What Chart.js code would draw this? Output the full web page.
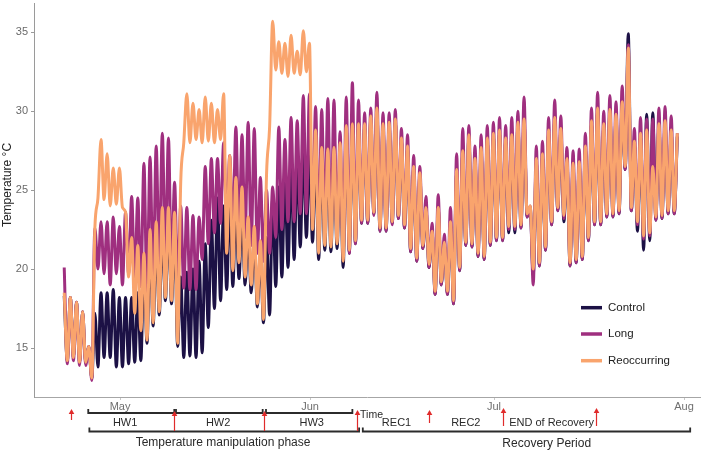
<!DOCTYPE html>
<html><head><meta charset="utf-8">
<script src="https://cdn.jsdelivr.net/npm/chart.js@4.4.1/dist/chart.umd.min.js"></script>
<style>html,body{margin:0;padding:0;background:#fff;}canvas{display:block;}</style>
</head><body>
<canvas id="c" width="709" height="452" style="width:709px;height:452px"></canvas>
<script>
// ---------- DATA (day offsets counted from 20 April) ----------
const seriesNames = ["Control", "Long", "Reoccurring"];
const seriesColors = ["#1c1145", "#9f2f7f", "#f9a46d"];
const monthDays = [11, 42, 72, 103];
const monthLabels = ["May", "Jun", "Jul", "Aug"];
const yTicks = [15, 20, 25, 30, 35];
const yTitle = "Temperature \u00B0C";
const FIRST_MAX_DAY = 1.9;   // time of the first daily maximum sample

// daily maxima / minima (one value per day)
const controlMax = [18.3,18.2,17.9,17.3,15.1,17.2,18.5,18.5,18.7,18.2,
  18.2,18.2,18.5,20.5,21.5,22.0,22.5,23.0,22.5,19.5,
  19.8,20.0,20.5,21.6,23.1,24.5,24.0,24.5,24.0,23.5,
  22.5,22.0,21.0,22.0,24.5,25.2,26.0,26.7,27.1,27.7,
  27.5,27.2,27.0,27.2,27.0,26.8,28.9,29.0,29.0,29.0,
  29.5,30.0,29.0,29.1,29.3,28.1,27.6,26.4,25.9,23.8,
  22.3,23.8,21.6,22.9,26.1,27.3,28.3,26.8,27.5,28.1,
  28.4,28.6,28.1,28.3,29.1,29.3,23.9,26.8,27.1,28.6,
  29.4,28.7,26.8,26.5,26.6,27.6,29.2,30.0,29.0,29.9,
  29.6,30.4,34.9,27.9,28.4,29.8,29.9,29.0,29.2,28.6,28.4];
const controlMin = [14.2,14.4,14.1,14.1,13.1,13.8,14.4,14.4,13.8,13.8,
  14.0,14.1,14.2,15.3,16.4,17.1,18.0,17.8,15.1,14.4,
  14.5,14.4,14.7,16.3,17.5,18.0,18.7,18.9,19.4,19.0,
  18.5,17.6,16.6,17.1,18.9,19.5,20.1,20.6,21.4,22.0,
  21.7,20.6,21.2,21.1,21.3,20.1,21.0,21.6,22.9,22.9,
  23.5,22.4,22.4,22.9,23.2,22.6,21.1,20.5,21.3,20.1,
  18.4,19.0,18.4,17.8,19.9,21.5,21.4,20.8,20.6,21.5,
  21.8,21.8,22.3,22.3,22.6,23.3,19.6,20.2,21.2,22.8,
  23.7,23.0,20.2,20.4,20.6,21.8,22.8,22.8,23.3,23.3,
  23.5,26.3,23.7,22.4,21.2,21.8,23.1,23.2,23.5,23.5];
const longMax = [20.1,18.2,17.9,17.3,15.1,22.6,23.0,23.0,23.3,22.7,
  23.6,24.6,24.5,26.7,27.1,27.8,28.6,28.3,25.5,24.0,
  23.9,23.4,23.3,26.5,27.0,27.0,28.0,27.2,29.0,28.5,
  29.3,28.9,25.8,25.0,25.2,29.0,28.2,29.6,29.4,31.0,
  31.1,30.3,30.1,30.8,30.7,28.7,30.9,31.8,30.7,29.9,
  30.2,31.2,29.9,29.9,30.1,28.9,28.5,27.2,26.5,24.6,
  22.9,24.7,22.2,23.9,27.3,28.9,29.1,27.8,28.5,29.1,
  29.3,29.6,29.1,29.6,30.0,30.9,24.0,27.8,28.1,29.6,
  30.7,29.7,27.7,27.5,27.6,28.6,30.2,31.2,30.0,31.0,
  30.6,31.6,34.2,28.9,29.6,29.5,29.5,30.2,30.3,29.7,28.6];
const longMin = [14.0,14.2,13.9,13.9,12.95,20.0,19.7,19.0,19.7,19.0,
  19.7,19.3,18.9,18.5,19.3,20.4,20.8,19.9,19.1,18.8,
  18.7,18.7,20.6,21.6,22.3,22.9,23.3,22.5,22.0,22.0,
  21.5,21.0,20.5,21.0,22.0,22.5,23.0,23.0,23.5,23.5,
  23.0,22.0,22.5,22.0,22.0,21.0,21.0,21.6,22.9,22.9,
  23.4,22.4,22.4,22.8,23.2,22.6,21.1,20.5,21.3,20.1,
  18.4,19.0,18.4,17.8,19.9,21.5,21.4,20.8,20.6,21.5,
  21.8,21.8,22.5,22.5,22.6,23.3,19.0,20.2,21.2,22.8,
  23.7,23.2,20.2,20.4,20.6,21.8,22.8,22.8,23.3,23.3,
  23.5,26.3,23.7,22.8,21.9,22.1,23.1,23.2,23.5,23.5];
const reocMax = [18.5,18.2,17.9,17.3,15.1,22.6,28.2,27.3,26.4,26.4,
  23.6,22.0,21.5,21.0,22.5,23.0,23.9,23.9,23.6,25.5,
  31.1,30.5,30.1,30.9,30.5,30.1,31.1,27.2,25.8,25.2,
  23.3,22.7,21.8,26.0,35.7,34.4,34.3,34.8,33.8,35.1,
  34.3,28.8,27.7,27.6,27.7,28.0,29.1,29.2,29.2,29.2,
  29.7,30.2,29.2,29.3,29.5,28.3,27.8,26.5,26.1,23.9,
  22.4,23.9,21.7,23.0,26.3,27.5,28.5,27.0,27.7,28.3,
  28.6,28.8,28.3,28.5,29.3,29.5,24.0,27.0,27.3,28.8,
  29.6,28.9,27.0,26.7,26.8,27.8,29.4,30.2,29.2,30.1,
  29.8,30.6,34.0,28.1,28.6,28.8,26.5,29.2,29.4,28.8,28.6];
const reocMin = [14.2,14.4,14.1,14.1,13.1,24.5,24.4,24.0,24.1,23.9,
  19.5,17.2,16.1,15.5,16.6,17.3,18.2,18.0,15.3,28.0,
  28.0,28.2,28.0,28.1,28.0,28.2,21.0,19.9,20.4,19.5,
  19.0,17.8,16.8,29.0,32.6,32.4,32.2,32.4,32.3,32.5,
  22.5,21.0,21.5,21.4,21.6,20.5,21.2,21.8,23.1,23.1,
  23.6,22.6,22.6,23.0,23.4,22.8,21.3,20.7,21.5,20.3,
  18.6,19.2,18.6,18.0,20.1,21.7,21.6,21.0,20.8,21.7,
  22.0,22.0,22.7,22.7,22.8,23.5,20.0,20.4,21.4,23.0,
  23.9,23.4,20.4,20.6,20.8,22.0,23.0,23.0,23.5,23.5,
  23.7,26.5,23.9,23.0,22.1,22.3,23.3,23.4,23.7,23.7];

// annotation content (positions in days, same axis as the data)
const phaseBracketsTop = [[5.82, 19.85], [20.13, 34.27], [34.81, 48.9]];
const phaseBracketsLow = [[6.0, 50.0], [50.6, 104.0]];
const samplingArrows = [[3.0, 409, 420], [19.85, 411, 431], [34.49, 411, 431], [49.6, 410, 431],
                        [61.45, 410, 423], [73.52, 408, 426], [88.65, 408, 426]];
const phaseLabels = [["HW1", 11.83, 423, "center", 11], ["HW2", 27.0, 423, "center", 11],
  ["HW3", 42.27, 423, "center", 11], ["Time", 50.15, 415.5, "left", 10.5],
  ["REC1", 56.1, 423, "center", 11], ["REC2", 67.4, 423, "center", 11],
  ["END of Recovery", 81.4, 423, "center", 11],
  ["Temperature manipulation phase", 27.8, 443, "center", 12],
  ["Recovery Period", 80.6, 443.5, "center", 12]];

// ---------- CHART ----------
function buildPoints(maxArr, minArr) {
  const pts = [];
  maxArr.forEach((v, i) => {
    pts.push({x: FIRST_MAX_DAY + i, y: v});
    if (i < minArr.length) pts.push({x: FIRST_MAX_DAY + i + 0.5, y: minArr[i]});
  });
  return pts;
}
const FONT = '"Liberation Sans", Arial, Helvetica, sans-serif';
Chart.defaults.font.family = FONT;

const allSeries = [[controlMax, controlMin], [longMax, longMin], [reocMax, reocMin]];
const datasets = allSeries.map((s, i) => ({
  label: seriesNames[i],
  data: buildPoints(s[0], s[1]),
  borderColor: seriesColors[i],
  backgroundColor: seriesColors[i],
  borderWidth: 3,
  pointRadius: 0,
  tension: 0.4,
  cubicInterpolationMode: 'monotone',
  borderJoinStyle: 'round',
  fill: false,
  order: 3 - i
}));

const extras = {
  id: 'extras',
  afterDraw(chart) {
    const {ctx} = chart;
    const xs = chart.scales.x;
    const px = d => xs.getPixelForValue(d);
    // y axis title
    ctx.save();
    ctx.translate(8, 185);
    ctx.rotate(-Math.PI / 2);
    ctx.font = '12px ' + FONT;
    ctx.fillStyle = '#222';
    ctx.textAlign = 'center';
    ctx.textBaseline = 'middle';
    ctx.fillText(yTitle, 0, 0);
    ctx.restore();

    // brackets
    ctx.save();
    ctx.strokeStyle = '#2b2b2b';
    ctx.lineWidth = 1.8;
    const drawBracket = (a, b, y) => {
      ctx.beginPath();
      ctx.moveTo(px(a), y - 4);
      ctx.lineTo(px(a), y);
      ctx.lineTo(px(b), y);
      ctx.lineTo(px(b), y - 4);
      ctx.stroke();
    };
    phaseBracketsTop.forEach(([a, b]) => drawBracket(a, b, 413));
    phaseBracketsLow.forEach(([a, b]) => drawBracket(a, b, 431.5));
    ctx.restore();

    // arrows
    ctx.save();
    ctx.strokeStyle = '#e02b2b';
    ctx.fillStyle = '#e02b2b';
    ctx.lineWidth = 1.2;
    samplingArrows.forEach(([d, yTop, yBot]) => {
      const x = Math.round(px(d)) + 0.5;
      ctx.beginPath();
      ctx.moveTo(x, yBot);
      ctx.lineTo(x, yTop + 3);
      ctx.stroke();
      ctx.beginPath();
      ctx.moveTo(x, yTop);
      ctx.lineTo(x - 2.8, yTop + 5);
      ctx.lineTo(x + 2.8, yTop + 5);
      ctx.closePath();
      ctx.fill();
    });
    ctx.restore();

    // texts
    ctx.save();
    ctx.fillStyle = '#2a2a2a';
    ctx.textBaseline = 'middle';
    phaseLabels.forEach(([t, d, y, align, size]) => {
      ctx.font = size + 'px ' + FONT;
      ctx.textAlign = align;
      ctx.fillText(t, px(d), y);
    });
    ctx.restore();

    // legend
    ctx.save();
    const legY = [307.7, 334, 360.7];
    chart.data.datasets.forEach((ds, i) => {
      ctx.strokeStyle = ds.borderColor;
      ctx.lineWidth = 3.5;
      ctx.beginPath();
      ctx.moveTo(581, legY[i]);
      ctx.lineTo(602, legY[i]);
      ctx.stroke();
      ctx.fillStyle = '#222';
      ctx.font = '11.5px ' + FONT;
      ctx.textAlign = 'left';
      ctx.textBaseline = 'middle';
      ctx.fillText(ds.label, 608, legY[i]);
    });
    ctx.restore();
  }
};

new Chart(document.getElementById('c'), {
  type: 'line',
  data: {datasets},
  options: {
    responsive: false,
    animation: false,
    events: [],
    layout: {padding: {top: 3, right: 9, left: 0, bottom: 0}},
    plugins: {legend: {display: false}, tooltip: {enabled: false}},
    scales: {
      x: {
        type: 'linear',
        min: -3.03, max: 105.6,
        afterFit: s => { s.height = 55; s.paddingLeft = 0; s.paddingRight = 0; },
        afterBuildTicks: s => { s.ticks = monthDays.map(v => ({value: v})); },
        ticks: {
          callback: (v, i) => monthLabels[i],
          color: '#6f6f6f', font: {size: 11}, padding: 0,
          maxRotation: 0, autoSkip: false
        },
        grid: {drawOnChartArea: false, drawTicks: true, tickLength: 3, color: '#c8c8c8'},
        border: {display: true, color: '#a6a6a6', width: 1}
      },
      y: {
        min: 11.9, max: 36.85,
        afterFit: s => { s.width = 34; s.paddingTop = 0; s.paddingBottom = 0; },
        afterBuildTicks: s => { s.ticks = yTicks.map(v => ({value: v})); },
        ticks: {color: '#6a6a6a', font: {size: 11}, padding: 3},
        grid: {drawOnChartArea: false, drawTicks: true, tickLength: 3, color: '#9a9a9a'},
        border: {display: true, color: '#9a9a9a', width: 1}
      }
    }
  },
  plugins: [extras]
});
</script>
</body></html>
